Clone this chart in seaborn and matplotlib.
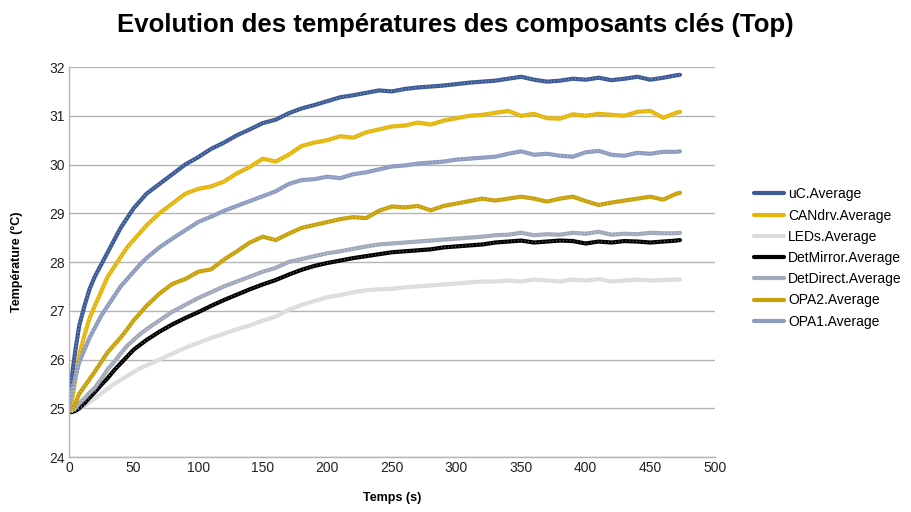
import numpy as np
import pandas as pd
import matplotlib
matplotlib.use("Agg")
import matplotlib.pyplot as plt
import seaborn as sns

# Time stamps (s)
temps = [0, 2, 5, 8, 12, 16, 20, 25, 30, 35, 40, 45, 50, 55,
         60, 70, 80, 90, 100, 110, 120, 130, 140, 150, 160, 170, 180, 190,
         200, 210, 220, 230, 240, 250, 260, 270, 280, 290, 300, 310, 320, 330,
         340, 350, 360, 370, 380, 390, 400, 410, 420, 430, 440, 450, 460, 470, 473]

uc = [25.05, 25.6, 26.2, 26.7, 27.1, 27.45, 27.7, 27.95, 28.2, 28.45, 28.7, 28.9, 29.1, 29.25,
      29.4, 29.6, 29.8, 30.0, 30.15, 30.32, 30.45, 30.6, 30.72, 30.85, 30.92, 31.05, 31.15, 31.22,
      31.3, 31.38, 31.42, 31.47, 31.52, 31.5, 31.55, 31.58, 31.6, 31.62, 31.65, 31.68, 31.7, 31.72,
      31.76, 31.8, 31.74, 31.7, 31.72, 31.76, 31.74, 31.78, 31.73, 31.76, 31.8, 31.74, 31.78, 31.83, 31.84]

candrv = [25.0, 25.1, 25.6, 26.1, 26.5, 26.85, 27.1, 27.4, 27.7, 27.9, 28.1, 28.3, 28.45, 28.6,
          28.75, 29.0, 29.2, 29.4, 29.5, 29.55, 29.65, 29.82, 29.95, 30.12, 30.06, 30.2, 30.38, 30.45,
          30.5, 30.58, 30.55, 30.66, 30.72, 30.78, 30.8, 30.86, 30.82, 30.9, 30.95, 31.0, 31.02, 31.06,
          31.1, 31.0, 31.04, 30.95, 30.94, 31.03, 31.0, 31.04, 31.02, 31.0, 31.08, 31.1, 30.96, 31.06, 31.08]

leds = [24.95, 24.92, 24.93, 24.98, 25.05, 25.12, 25.2, 25.3, 25.4, 25.5, 25.58, 25.66, 25.74, 25.82,
        25.88, 26.0, 26.12, 26.24, 26.34, 26.44, 26.53, 26.62, 26.7, 26.8, 26.88, 27.02, 27.12, 27.2,
        27.28, 27.32, 27.38, 27.42, 27.44, 27.45, 27.48, 27.5, 27.52, 27.54, 27.56, 27.58, 27.6, 27.6,
        27.62, 27.6, 27.64, 27.62, 27.6, 27.64, 27.62, 27.65, 27.6, 27.62, 27.64, 27.62, 27.63, 27.64, 27.64]

det_mirror = [24.95, 24.92, 24.95, 25.0, 25.1, 25.22, 25.33, 25.48, 25.62, 25.78, 25.92, 26.06, 26.2, 26.3,
              26.4, 26.57, 26.72, 26.85, 26.97, 27.1, 27.22, 27.33, 27.44, 27.54, 27.63, 27.74, 27.84, 27.92,
              27.98, 28.03, 28.08, 28.12, 28.16, 28.2, 28.22, 28.24, 28.26, 28.3, 28.32, 28.34, 28.36, 28.4,
              28.42, 28.44, 28.4, 28.42, 28.44, 28.43, 28.38, 28.42, 28.4, 28.43, 28.42, 28.4, 28.42, 28.44, 28.45]

det_direct = [24.98, 24.95, 25.0, 25.1, 25.2, 25.32, 25.42, 25.6, 25.8, 25.95, 26.12, 26.28, 26.4, 26.52,
              26.62, 26.8, 26.98, 27.12, 27.26, 27.38, 27.5, 27.6, 27.7, 27.8, 27.88, 28.0, 28.06, 28.12,
              28.18, 28.22, 28.27, 28.32, 28.36, 28.38, 28.4, 28.42, 28.44, 28.46, 28.48, 28.5, 28.52, 28.55,
              28.56, 28.6, 28.55, 28.57, 28.56, 28.6, 28.58, 28.62, 28.56, 28.58, 28.57, 28.6, 28.59, 28.59, 28.6]

opa2 = [25.0, 24.95, 25.1, 25.3, 25.45, 25.6, 25.75, 25.95, 26.15, 26.3, 26.45, 26.62, 26.8, 26.95,
        27.1, 27.35, 27.55, 27.65, 27.8, 27.85, 28.05, 28.22, 28.4, 28.52, 28.45, 28.58, 28.7, 28.76,
        28.82, 28.88, 28.92, 28.9, 29.05, 29.14, 29.12, 29.15, 29.06, 29.15, 29.2, 29.25, 29.3, 29.26,
        29.3, 29.34, 29.3, 29.24, 29.3, 29.34, 29.25, 29.17, 29.22, 29.26, 29.3, 29.34, 29.28, 29.4, 29.42]

opa1 = [25.0, 25.3, 25.65, 25.95, 26.2, 26.45, 26.65, 26.9, 27.1, 27.3, 27.5, 27.65, 27.8, 27.95,
        28.08, 28.3, 28.48, 28.65, 28.82, 28.93, 29.05, 29.15, 29.25, 29.35, 29.45, 29.6, 29.68, 29.7,
        29.75, 29.72, 29.8, 29.84, 29.9, 29.96, 29.98, 30.02, 30.04, 30.06, 30.1, 30.12, 30.14, 30.16,
        30.22, 30.27, 30.2, 30.22, 30.18, 30.16, 30.25, 30.28, 30.2, 30.18, 30.24, 30.22, 30.26, 30.26, 30.27]

series_names = ["uC.Average", "CANdrv.Average", "LEDs.Average", "DetMirror.Average",
                "DetDirect.Average", "OPA2.Average", "OPA1.Average"]
series_values = [uc, candrv, leds, det_mirror, det_direct, opa2, opa1]
colors = ["#3c5a96", "#e5b60a", "#dcdcdc", "#000000", "#a0a8ba", "#c8a008", "#8d9bc0"]

df = pd.concat(
    [pd.DataFrame({"Temps": temps, "Temperature": vals, "Composant": name})
     for name, vals in zip(series_names, series_values)],
    ignore_index=True,
)

sns.set_theme(style="white")
plt.rcParams["font.family"] = ["Liberation Sans", "DejaVu Sans"]

fig = plt.figure(figsize=(9.11, 5.12), dpi=100)
ax = fig.add_axes([0.0757, 0.1074, 0.709, 0.7617])

sns.lineplot(data=df, x="Temps", y="Temperature", hue="Composant",
             hue_order=series_names, palette=dict(zip(series_names, colors)),
             linewidth=3.0, ax=ax, legend=True, sort=False)

# light speckle running along each measured trace
for name in series_names:
    sub = df[df["Composant"] == name]
    ax.plot(sub["Temps"], sub["Temperature"], color="white", linewidth=0.9,
            linestyle=(0, (0.6, 2.2)), alpha=0.55, label="_nolegend_")

ax.set_xlim(0, 500)
ax.set_ylim(24, 32)
ax.set_xticks(range(0, 501, 50))
ax.set_yticks(range(24, 33, 1))
ax.yaxis.grid(True, color="#b4b4b4", linewidth=1.0)
ax.xaxis.grid(False)
ax.set_axisbelow(True)
for side in ("top", "right"):
    ax.spines[side].set_visible(False)
for side in ("left", "bottom"):
    ax.spines[side].set_color("#b4b4b4")
    ax.spines[side].set_linewidth(1.0)
ax.tick_params(axis="both", length=0, labelsize=10, colors="#222222", pad=3)

ax.set_xlabel("Temps (s)", fontsize=9, fontweight="bold", labelpad=12, color="black")
ax.set_ylabel("Température (°C)", fontsize=9, fontweight="bold", labelpad=19, color="black")

fig.suptitle("Evolution des températures des composants clés (Top)",
             x=0.5, y=0.975, fontsize=18.5, fontweight="bold", va="top", color="black")

handles, labels = ax.get_legend_handles_labels()
leg = ax.legend(handles[:len(series_names)], labels[:len(series_names)], loc="center left",
                bbox_to_anchor=(748 / 911, 1 - 258 / 512),
                bbox_transform=fig.transFigure, frameon=False,
                fontsize=10, handlelength=2.2, handletextpad=0.3,
                labelspacing=0.52, borderaxespad=0)
for text in leg.get_texts():
    text.set_color("black")
for line in leg.get_lines():
    line.set_linewidth(3.0)

fig.savefig("out.png", dpi=100)
